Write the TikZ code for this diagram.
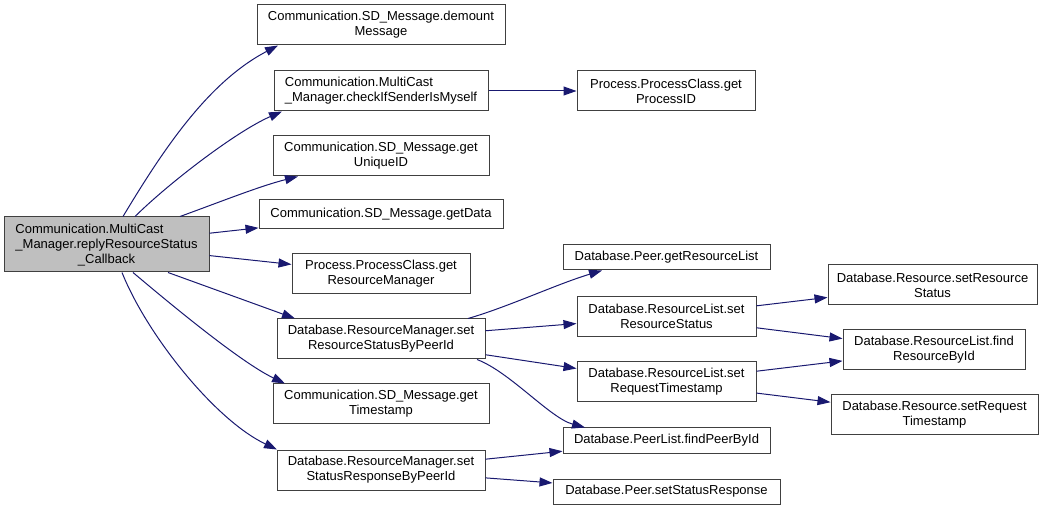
\documentclass[tikz,border=0pt]{standalone}
\usepackage{fontspec}
\setmainfont{Liberation Sans}
\usetikzlibrary{arrows.meta}
\definecolor{callblue}{HTML}{191970}
\tikzset{
  every node/.style={
    font=\fontsize{13}{15}\selectfont
  },
  func/.style={
    shape=rectangle,
    draw=black!75,
    line width=1pt,
    align=center,
    inner sep=1pt
  },
  current/.style={
    func,
    fill=black!25
  },
  call/.style={
    draw=callblue,
    line width=1pt,
    -{Triangle[length=13pt,width=9pt]}
  }
}

\begin{document}
\begin{tikzpicture}[x=1pt,y=-1pt]
    \useasboundingbox (0,0) rectangle (1047,510);
    \node [current, minimum width=205, minimum height=55] (root) at (106.5,244.5) {
      \begin{tabular}[b]{@{}l@{}}Communication.MultiCast\\\_Manager.replyResourceStatus\end{tabular}\\\_Callback
    };
    \node [func, minimum width=248, minimum height=40] (demount) at (381,25) {Communication.SD\_Message.demount\\Message};
    \node [func, align=left, minimum width=214, minimum height=40] (checksender) at (381,91) {Communication.MultiCast\\\_Manager.checkIfSenderIsMyself};
    \node [func, minimum width=178, minimum height=40] (processid) at (666,91) {Process.ProcessClass.get\\ProcessID};
    \node [func, minimum width=216, minimum height=40] (uniqueid) at (381,156) {Communication.SD\_Message.get\\UniqueID};
    \node [func, minimum width=244, minimum height=29] (getdata) at (381,214.5) {Communication.SD\_Message.getData};
    \node [func, minimum width=178, minimum height=40] (resmanager) at (381,274) {Process.ProcessClass.get\\ResourceManager};
    \node [func, minimum width=208, minimum height=40] (setresstatus) at (381,339) {Database.ResourceManager.set\\ResourceStatusByPeerId};
    \node [func, minimum width=216, minimum height=40] (gettimestamp) at (381,404) {Communication.SD\_Message.get\\Timestamp};
    \node [func, minimum width=208, minimum height=40] (setstatusresp) at (381,470) {Database.ResourceManager.set\\StatusResponseByPeerId};
    \node [func, minimum width=207, minimum height=25] (getreslist) at (666.5,257.5) {Database.Peer.getResourceList};
    \node [func, minimum width=179, minimum height=40] (rlsetstatus) at (666.5,316.5) {Database.ResourceList.set\\ResourceStatus};
    \node [func, minimum width=179, minimum height=40] (rlsettime) at (666.5,382) {Database.ResourceList.set\\RequestTimestamp};
    \node [func, minimum width=207, minimum height=25] (findpeer) at (666.5,440.5) {Database.PeerList.findPeerById};
    \node [func, minimum width=227, minimum height=25] (setresponse) at (666.5,491.5) {Database.Peer.setStatusResponse};
    \node [func, minimum width=209, minimum height=40] (rsetstatus) at (932.5,285) {Database.Resource.setResource\\Status};
    \node [func, minimum width=182, minimum height=40] (findresource) at (934,350) {Database.ResourceList.find\\ResourceById};
    \node [func, minimum width=207, minimum height=40] (rsettime) at (934.5,415) {Database.Resource.setRequest\\Timestamp};

    \draw [call] ([xshift=16.5]root.north) .. controls (163,150) and (208,82) .. ([xshift=-103]demount.south);
    \draw [call] ([xshift=28.5]root.north) .. controls (170,182) and (237,131) .. ([xshift=-99]checksender.south);
    \draw [call] ([xshift=73.5]root.north) .. controls (220,202) and (260,186) .. ([xshift=-83]uniqueid.south);
    \draw [call] (root) -- (getdata);
    \draw [call] (root) -- (resmanager);
    \draw [call] ([xshift=61.5]root.south) -- ([xshift=-86]setresstatus.north);
    \draw [call] ([xshift=26.5]root.south) .. controls (168,302) and (240,362) .. ([xshift=-96]gettimestamp.north);
    \draw [call] ([xshift=15.5]root.south) .. controls (147,335) and (215,420) .. ([xshift=-104]setstatusresp.north);
    \draw [call] (checksender) -- (processid);
    \draw [call] ([xshift=87]setresstatus.north) .. controls (508,307) and (557,284) .. ([xshift=-64.5]getreslist.south);
    \draw [call] (setresstatus) -- (rlsetstatus);
    \draw [call] (setresstatus) -- (rlsettime);
    \draw [call] ([xshift=96]setresstatus.south) .. controls (510,372) and (550,418) .. ([xshift=-81.5]findpeer.north);
    \draw [call] (setstatusresp) -- (findpeer);
    \draw [call] (setstatusresp) -- (setresponse);
    \draw [call] (rlsetstatus) -- (rsetstatus);
    \draw [call] (rlsetstatus) -- (findresource);
    \draw [call] (rlsettime) -- (findresource);
    \draw [call] (rlsettime) -- (rsettime);
\end{tikzpicture}
\end{document}
